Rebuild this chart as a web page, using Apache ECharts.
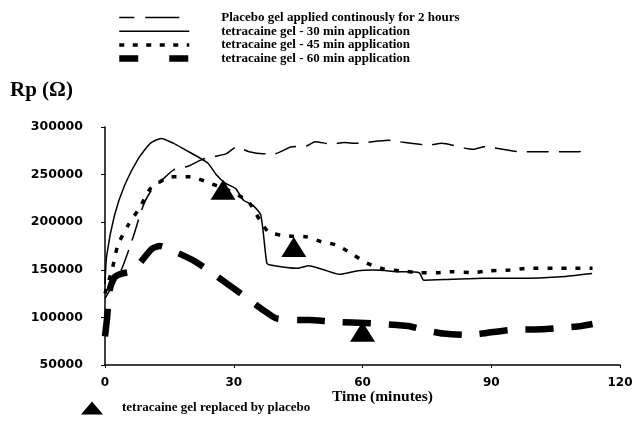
<!DOCTYPE html>
<html>
<head>
<meta charset="utf-8">
<script src="https://cdn.jsdelivr.net/npm/echarts@6/dist/echarts.min.js"></script>
<style>html,body{margin:0;padding:0;background:#fff;}#c{width:639px;height:424px;}</style>
</head>
<body>
<div id="c"></div>
<script>
// Series data: [time (minutes), Rp (ohm)]
const placebo = [[0,120000],[3.8,150000],[6.6,185000],[8.7,215000],[10.6,232000],[13,243000],[16,255000],[19.5,259000],[22.7,266000],[25.6,269000],[28.3,272000],[30.6,279000],[33.6,274000],[36.8,272000],[39.6,272000],[43.3,279000],[46.9,280000],[49,284600],[52.8,282000],[55.7,283800],[58.5,282800],[66,286000],[68.4,284600],[75.5,281000],[78.4,282800],[85.8,276500],[88.4,279300],[96.8,274000],[100,274000],[109.2,274000],[112.3,274800]];
const tetra30 = [[0,135000],[0.4,165000],[2.2,207000],[4.6,239000],[7.8,267000],[10.6,283000],[13.1,288000],[15.9,283000],[18.7,276000],[21.5,269000],[24,262000],[26,249500],[28,241000],[30.4,235500],[32.3,223000],[34.4,218000],[36.3,207500],[37.7,157000],[38.5,155000],[44.8,151500],[47.5,154300],[51,150000],[54.6,145300],[58.9,149000],[62.5,149700],[68.4,148000],[73.2,147000],[74.3,139000],[81,140000],[88.4,141000],[96.8,141000],[107.3,143000],[113.5,146000]];
const tetra45 = [[0,125000],[1.8,153000],[3,176000],[5.4,197000],[8.2,216000],[10.6,235500],[15.5,247700],[19.9,247700],[25,240000],[28,235000],[32.4,225000],[33.5,221600],[38,190000],[42.9,185500],[46.8,184800],[50.4,179500],[53.9,176000],[57.1,168000],[61,157000],[65.1,150600],[69.2,148700],[73.6,147000],[77.3,147000],[81,148000],[85.5,147000],[89.6,149000],[94.3,149800],[98.7,151500],[104.8,151500],[109.2,151500],[113.6,151500]];
const tetra60 = [[0,80000],[0.5,100000],[1,127000],[2.2,142000],[3.9,146000],[6.5,149000],[10.9,172000],[12.8,175000],[14.8,172000],[21.1,158500],[32.1,123500],[37.4,106000],[39.9,99000],[45.1,97300],[47.6,97300],[52.9,95500],[62.5,93700],[68,92000],[70.7,91000],[76.2,85000],[78.8,83000],[84.4,81500],[94.3,86800],[101.8,87500],[104.8,88500],[111,91000],[113.6,93000]];
const replaced = [[27.5,234000],[44,174000],[60,85000]];
const seriesNames = ['Placebo gel applied continously for 2 hours','tetracaine gel - 30 min application','tetracaine gel - 45 min application','tetracaine gel - 60 min application'];
const markerName = 'tetracaine gel replaced by placebo';
const xTicks = [0,30,60,90,120];
const yTicks = [50000,100000,150000,200000,250000,300000];

const chart = echarts.init(document.getElementById('c'), null, {renderer:'canvas'});
const serif = '"Liberation Serif", "DejaVu Serif", serif';
const sans = '"DejaVu Sans", sans-serif';
const hidden = {color:'rgba(0,0,0,0)', borderWidth:0, opacity:0};
chart.setOption({
  animation:false,
  backgroundColor:'#fff',
  title:{text:'Rp (\u03A9)', left:10, top:80, padding:0, textStyle:{fontFamily:serif, fontWeight:'bold', fontSize:21, color:'#000'}},
  graphic:[{type:'text', left:332, top:389, style:{text:'Time (minutes)', font:'bold 15.5px '+serif, fill:'#000'}}],
  legend:[{
    data:[
      {name:seriesNames[0], itemStyle:hidden, lineStyle:{width:1.5, type:[15,11,34,11]}},
      {name:seriesNames[1], itemStyle:hidden, lineStyle:{width:1.5, type:'solid'}},
      {name:seriesNames[2], itemStyle:hidden, lineStyle:{width:3.5, type:[5,8.5]}},
      {name:seriesNames[3], itemStyle:hidden, lineStyle:{width:6.5, type:[19,31]}}
    ],
    orient:'vertical', left:116, top:11, padding:0, itemWidth:70, itemHeight:10, itemGap:0.7,
    textStyle:{fontFamily:serif, fontWeight:'bold', fontSize:13, lineHeight:13, color:'#000', padding:[0,0,0,27]}
  },{
    data:[{name:markerName, itemStyle:{color:'#000', opacity:1}}], orient:'horizontal', left:81, top:400, padding:0, itemWidth:22, itemHeight:13, icon:'triangle',
    textStyle:{fontFamily:serif, fontWeight:'bold', fontSize:13, lineHeight:14, color:'#000', padding:[2,0,0,14]}
  }],
  grid:{left:105, right:19, top:127, bottom:59},
  xAxis:{type:'value', min:xTicks[0], max:xTicks[xTicks.length-1], interval:30,
    axisLine:{lineStyle:{color:'#000', width:1.5}},
    axisTick:{show:true, length:3, lineStyle:{color:'#000'}},
    splitLine:{show:false},
    axisLabel:{color:'#000', fontFamily:sans, fontWeight:'bold', fontSize:12, margin:12}},
  yAxis:{type:'value', min:yTicks[0], max:yTicks[yTicks.length-1], interval:50000,
    axisLine:{show:true, lineStyle:{color:'#000', width:1.5}},
    axisTick:{show:true, length:4, lineStyle:{color:'#000'}},
    splitLine:{show:false},
    axisLabel:{color:'#000', fontFamily:sans, fontWeight:'bold', fontSize:12.5, margin:22, formatter:function(v){return String(v);}}},
  series:[
    {name:seriesNames[0], type:'line', data:placebo, symbol:'none', smooth:0.2,
      lineStyle:{color:'#000', width:1.5, type:[22,10]}, itemStyle:{color:'#000'}},
    {name:seriesNames[1], type:'line', data:tetra30, symbol:'none', smooth:0.2,
      lineStyle:{color:'#000', width:1.5}, itemStyle:{color:'#000'}},
    {name:seriesNames[2], type:'line', data:tetra45, symbol:'none', smooth:0.2,
      lineStyle:{color:'#000', width:3.5, type:[5,9]}, itemStyle:{color:'#000'}},
    {name:seriesNames[3], type:'line', data:tetra60, symbol:'none', smooth:0.2,
      lineStyle:{color:'#000', width:6.5, type:[28,18]}, itemStyle:{color:'#000'}},
    {name:markerName, type:'scatter', data:replaced, symbol:'triangle', symbolSize:[25,20], z:5,
      itemStyle:{color:'#000', opacity:1}}
  ]
});
</script>
</body>
</html>
